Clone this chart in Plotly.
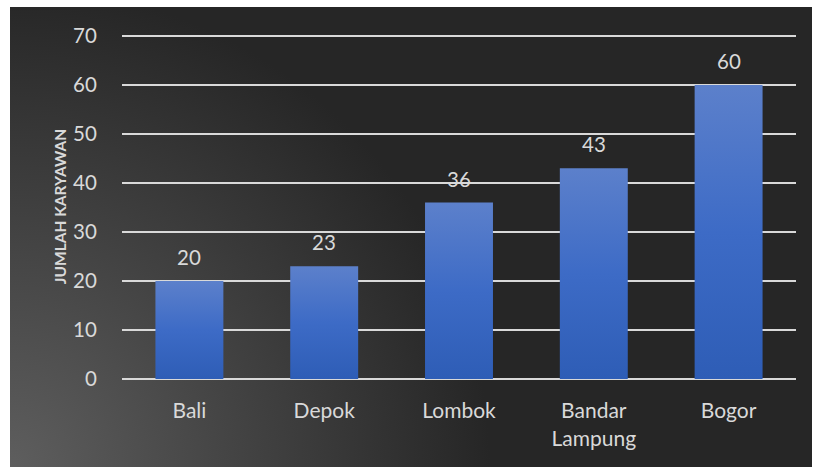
import base64
import plotly.graph_objects as go

categories = ["Bali", "Depok", "Lombok", "Bandar<br>Lampung", "Bogor"]
values = [20, 23, 36, 43, 60]
y_ticks = [0, 10, 20, 30, 40, 50, 60, 70]

W, H = 814, 467
ymax = 70.4
px_per_unit = 343 / 70
ph = px_per_unit * ymax
B = 88
T = H - B - ph
L, R = 122, 18
pw = W - L - R

fig = go.Figure()

half = 0.252
for i, v in enumerate(values):
    fig.add_trace(go.Scatter(
        x=[i - half, i - half, i + half, i + half, i - half],
        y=[0, v, v, 0, 0],
        mode="lines", line=dict(width=0),
        fill="toself",
        fillgradient=dict(type="vertical", start=0, stop=v,
                          colorscale=[[0, "#2e5db6"], [0.5, "#3d6bc6"], [1, "#5c80cb"]]),
        showlegend=False, hoverinfo="skip",
    ))

for i, v in enumerate(values):
    fig.add_annotation(x=i, y=v, text=str(v), showarrow=False, yanchor="bottom",
                       yshift=10, font=dict(size=20.5, color="#d9d9d9"))

svg = f'''<svg xmlns="http://www.w3.org/2000/svg" width="802" height="460" viewBox="0 0 802 460">
<defs><radialGradient id="g" gradientUnits="userSpaceOnUse" cx="0" cy="460" r="640">
<stop offset="0" stop-color="#5e5e5e"/><stop offset="0.75" stop-color="#262626"/><stop offset="1" stop-color="#262626"/>
</radialGradient></defs><rect width="802" height="460" fill="url(#g)"/></svg>'''
src = "data:image/svg+xml;base64," + base64.b64encode(svg.encode()).decode()

x0 = (10 - L) / pw
y_top = (H - B - 7) / ph
fig.add_layout_image(dict(source=src, xref="paper", yref="paper", x=x0, y=y_top,
                          sizex=802 / pw, sizey=460 / ph, sizing="stretch",
                          xanchor="left", yanchor="top", layer="below"))

fig.update_layout(
    width=W, height=H,
    margin=dict(l=L, r=R, t=T, b=B),
    paper_bgcolor="white", plot_bgcolor="rgba(0,0,0,0)",
    font=dict(family="Lato, Open Sans, sans-serif", color="#d9d9d9", size=21),
    xaxis=dict(range=[-0.5, 4.5], tickvals=list(range(len(categories))), ticktext=categories,
               showgrid=False, zeroline=False, showline=False,
               ticks="outside", ticklen=13, tickcolor="rgba(0,0,0,0)",
               tickfont=dict(size=21, color="#d9d9d9"), fixedrange=True),
    yaxis=dict(range=[0, ymax], tickvals=y_ticks, showgrid=True, gridcolor="#d9d9d9", gridwidth=2,
               zeroline=True, zerolinecolor="#d9d9d9", zerolinewidth=2, showline=False,
               ticks="outside", ticklen=20, tickcolor="rgba(0,0,0,0)",
               tickfont=dict(size=20.5, color="#d9d9d9"),
               title=dict(text="<b>JUMLAH KARYAWAN</b>", font=dict(size=15.5, color="#d9d9d9"), standoff=2)),
)

fig.write_html("out.html")
